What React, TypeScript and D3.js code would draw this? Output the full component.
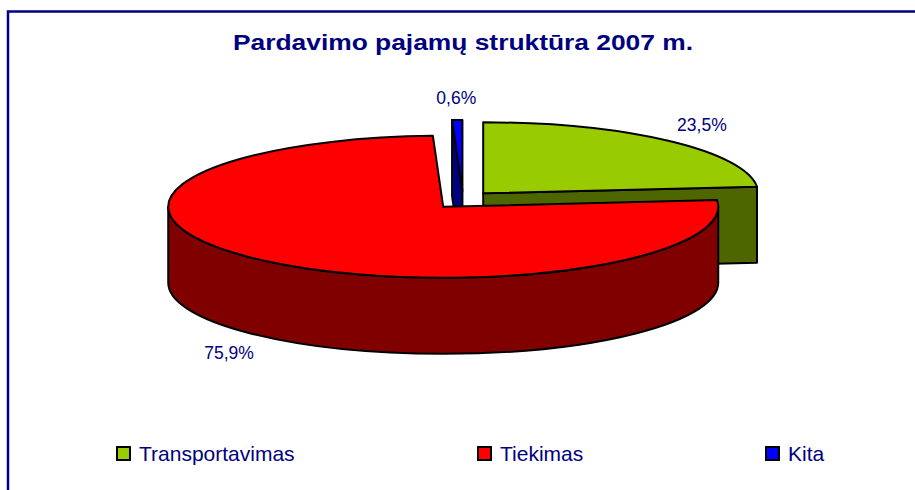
import React from 'react';
import * as d3 from 'd3';

// chart data
const categories = ['Transportavimas', 'Tiekimas', 'Kita'];
const shares = [23.5, 75.9, 0.6];
const topColors = ['#99CC00', '#FF0000', '#0000FF'];
const sideColors = ['#4D6600', '#800000', '#000080'];

const W = 915;
const H = 490;
const navy = '#000080';
const font = '"Liberation Sans", Arial, sans-serif';

// 3d pie geometry
const cx = 463;
const cy = 200;
const rx = 275;
const ry = 71;
const depth = 76;
const explode = 30;
const explodeY = 0.3;
const k = ry / rx;
const D = depth / k;
const labelRx = 325;
const labelRy = 93;

const legendX = [117, 478, 766];
const legendY = 454;

const locale = d3.formatLocale({ decimal: ',', thousands: ' ', grouping: [3], currency: ['', ''] });
const fmt = locale.format('.1f');

const pie = d3.pie<number>().sort(null).value(d => d);
const arcGen = d3.arc<d3.PieArcDatum<number>>().innerRadius(0).outerRadius(rx);

function sidePath(a0: number, a1: number) {
  const s = Math.max(a0, Math.PI / 2);
  const e = Math.min(a1, (3 * Math.PI) / 2);
  if (e <= s) return null;
  const p = d3.path();
  p.moveTo(rx * Math.sin(s), -rx * Math.cos(s));
  p.arc(0, 0, rx, s - Math.PI / 2, e - Math.PI / 2, false);
  p.lineTo(rx * Math.sin(e), -rx * Math.cos(e) + D);
  p.arc(0, D, rx, e - Math.PI / 2, s - Math.PI / 2, true);
  p.closePath();
  return p.toString();
}

function wallPath(a: number) {
  const x = rx * Math.sin(a);
  const y = -rx * Math.cos(a);
  return `M0,0L${x},${y}L${x},${y + D}L0,${D}Z`;
}

const App = () => {
  const arcs = pie(shares);
  const slices = arcs.map((d, i) => {
    const mid = (d.startAngle + d.endAngle) / 2;
    const sx = cx + explode * Math.sin(mid);
    const sy = cy - explode * explodeY * Math.cos(mid);
    return { d, i, mid, sx, sy };
  });
  // back slices first
  const order = [...slices].sort((a, b) => -Math.cos(a.mid) + Math.cos(b.mid));

  const stroke = {
    stroke: '#000',
    strokeWidth: 2,
    strokeLinejoin: 'round' as const,
    vectorEffect: 'non-scaling-stroke' as const,
  };

  return (
    <svg width={W} height={H} style={{ position: 'absolute', left: 0, top: 0, background: '#fff' }}>
      <rect x={8} y={11.5} width={W + 20} height={H + 20} fill="#fff" stroke={navy} strokeWidth={2.5} />

      <text x={463} y={50} textAnchor="middle" fontFamily={font} fontWeight="bold" fontSize={22.5}
        fill={navy} textLength={460} lengthAdjust="spacingAndGlyphs">
        Pardavimo pajamų struktūra 2007 m.
      </text>

      {order.map(({ d, i, sx, sy }) => {
        const side = sidePath(d.startAngle, d.endAngle);
        return (
          <g key={i} transform={`translate(${sx},${sy}) scale(1,${k})`}>
            {Math.sin(d.startAngle) < -1e-6 && (
              <path d={wallPath(d.startAngle)} fill={sideColors[i]} {...stroke} />
            )}
            {Math.sin(d.endAngle) > 1e-6 && (
              <path d={wallPath(d.endAngle)} fill={sideColors[i]} {...stroke} />
            )}
            {side && <path d={side} fill={sideColors[i]} {...stroke} />}
            <path d={arcGen(d) || ''} fill={topColors[i]} {...stroke} />
          </g>
        );
      })}

      {slices.map(({ i, mid, sx, sy }) => {
        const lx = sx + labelRx * Math.sin(mid);
        const ly = sy - labelRy * Math.cos(mid) + (Math.cos(mid) < 0 ? depth : 0);
        return (
          <text key={i} x={lx} y={ly} textAnchor="middle" dominantBaseline="central"
            fontFamily={font} fontSize={17.5} fill={navy}>
            {fmt(shares[i]) + '%'}
          </text>
        );
      })}

      {categories.map((c, i) => (
        <g key={c} transform={`translate(${legendX[i]},${legendY})`}>
          <rect x={0} y={-7} width={13} height={13} fill={topColors[i]} stroke="#000" strokeWidth={2} />
          <text x={22} y={6.5} fontFamily={font} fontSize={21} fill={navy}>{c}</text>
        </g>
      ))}
    </svg>
  );
};

export default App;
